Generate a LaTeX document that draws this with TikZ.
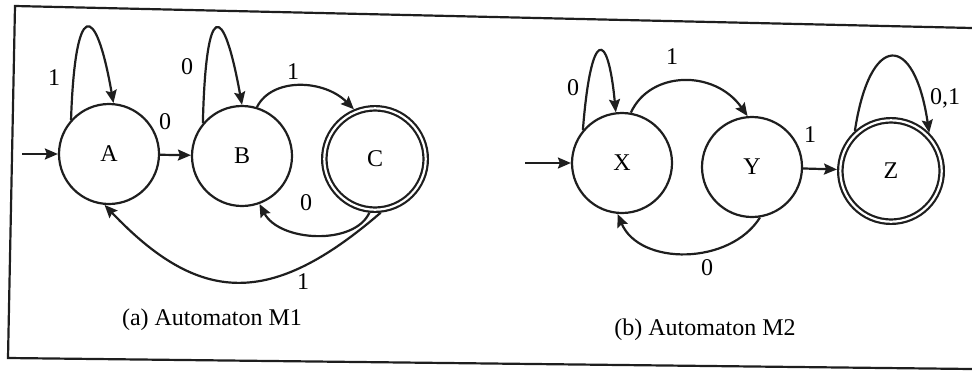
\documentclass[tikz,border=0pt]{standalone}
\usepackage{fontspec}
\setmainfont{Liberation Serif}
\usepackage{tikz}
\usetikzlibrary{arrows.meta}

\begin{document}
\begin{tikzpicture}[x=0.5pt,y=-0.5pt,
  stato/.style={circle, draw=inkBlack, line width=1.1pt, minimum size=50pt,
    inner sep=0pt, font=\fontsize{12}{14}\selectfont},
  finale/.style={stato, double, double distance=1.1pt, minimum size=50.7pt,
    outer sep=1.65pt},
  freccia/.style={draw=inkBlack, line width=1.1pt,
    -{Stealth[length=6.5pt,width=5.5pt,inset=1pt]}},
  etichetta/.style={font=\fontsize{12}{14}\selectfont, inner sep=0pt},
  cornice/.style={draw=inkBlack, line width=1.1pt}]

% Colori
\definecolor{inkBlack}{HTML}{1E1E1E}

\useasboundingbox (0,0) rectangle (972,375);

% Cornice
\draw[cornice] (972,28) -- (15,6) -- (8,358) -- (972,369);

% Automa M1
\node[stato] (A) at (109,154) {A};
\node[stato] (B) at (242,156) {B};
\node[finale] (C) at (375,159) {C};
\coordinate (inA) at (22,154);

\draw[freccia] (inA) -- (A);
\draw[freccia] (A) -- (B);
\draw[freccia] (A.138) .. controls +(4,-120) and +(-18,-103) .. (A.85);
\draw[freccia] (B.140) .. controls +(3,-123) and +(-19,-105) .. (B.90);
\draw[freccia] (B.73) .. controls +(15,-30) and +(-30,-30) .. (C.113);
\draw[freccia] (C.-96) .. controls +(-15,33) and +(20,38) .. (B.-70);
\draw[freccia] (C.-84) .. controls +(-110,95) and +(95,100) .. (A.-95);

\node[etichetta] (lAA) at (54,78) {1};
\node[etichetta] (lBB) at (187,67) {0};
\node[etichetta] (lAB) at (165,122) {0};
\node[etichetta] (lBC) at (293,72) {1};
\node[etichetta] (lCB) at (306,203) {0};
\node[etichetta] (lCA) at (303,282) {1};
\node[etichetta] (capM1) at (212,320) {(a) Automaton M1};

% Automa M2
\node[stato] (X) at (622,163) {X};
\node[stato] (Y) at (752,167) {Y};
\node[finale] (Z) at (891,171) {Z};
\coordinate (inX) at (525,163);

\draw[freccia] (inX) -- (X);
\draw[freccia] (X.140) .. controls +(8,-102) and +(-8,-84) .. (X.97);
\draw[freccia] (X.80) .. controls +(19,-42) and +(-33,-47) .. (Y.95);
\draw[freccia] (Y) -- (Z);
\draw[freccia] (Y.-81) .. controls +(-30,48) and +(22,52) .. (X.-95);
\draw[freccia] (Z.132) .. controls +(15,-99) and +(-15,-101) .. (Z.45);

\node[etichetta] (lXX) at (573,88) {0};
\node[etichetta] (lXY) at (672,57) {1};
\node[etichetta] (lYZ) at (810,135) {1};
\node[etichetta] (lYX) at (707,268) {0};
\node[etichetta] (lZZ) at (945,98) {0,1};
\node[etichetta] (capM2) at (705,330) {(b) Automaton M2};

\end{tikzpicture}
\end{document}
